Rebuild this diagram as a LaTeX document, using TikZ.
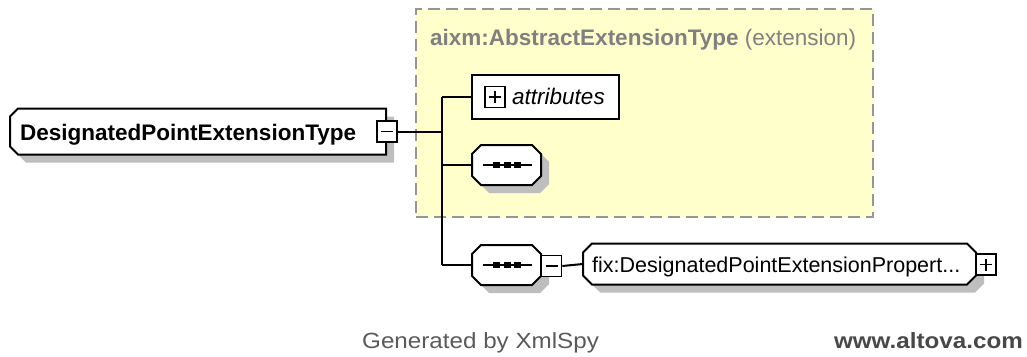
\documentclass[tikz,border=0pt]{standalone}
\usepackage{fontspec}
\setmainfont{Liberation Sans}
\definecolor{yel}{RGB}{255,255,204}
\definecolor{dashgray}{RGB}{150,150,150}
\definecolor{shad}{RGB}{190,190,190}
\definecolor{titlegray}{RGB}{128,128,128}
\definecolor{footgray}{RGB}{90,90,90}
% #1 name, #2 cx, #3 cy, #4 width, #5 height, #6 chamfer
\newcommand\octbox[6]{%
  \begin{scope}[shift={(8,8)}]
    \fill[shad] ({#2-#4/2},{#3-#5/2+#6}) -- ({#2-#4/2+#6},{#3-#5/2}) -- ({#2+#4/2-#6},{#3-#5/2}) -- ({#2+#4/2},{#3-#5/2+#6})
      -- ({#2+#4/2},{#3+#5/2-#6}) -- ({#2+#4/2-#6},{#3+#5/2}) -- ({#2-#4/2+#6},{#3+#5/2}) -- ({#2-#4/2},{#3+#5/2-#6}) -- cycle;
  \end{scope}
  \filldraw[boxline, fill=white] ({#2-#4/2},{#3-#5/2+#6}) -- ({#2-#4/2+#6},{#3-#5/2}) -- ({#2+#4/2-#6},{#3-#5/2}) -- ({#2+#4/2},{#3-#5/2+#6})
      -- ({#2+#4/2},{#3+#5/2-#6}) -- ({#2+#4/2-#6},{#3+#5/2}) -- ({#2-#4/2+#6},{#3+#5/2}) -- ({#2-#4/2},{#3+#5/2-#6}) -- cycle;
  \node[shapeanchor, minimum width=#4pt, minimum height=#5pt] (#1) at (#2,#3) {};}
% left chamfers only
\newcommand\lchambox[6]{%
  \begin{scope}[shift={(8,8)}]
    \fill[shad] ({#2-#4/2},{#3-#5/2+#6}) -- ({#2-#4/2+#6},{#3-#5/2}) -- ({#2+#4/2},{#3-#5/2})
      -- ({#2+#4/2},{#3+#5/2}) -- ({#2-#4/2+#6},{#3+#5/2}) -- ({#2-#4/2},{#3+#5/2-#6}) -- cycle;
  \end{scope}
  \filldraw[boxline, fill=white] ({#2-#4/2},{#3-#5/2+#6}) -- ({#2-#4/2+#6},{#3-#5/2}) -- ({#2+#4/2},{#3-#5/2})
      -- ({#2+#4/2},{#3+#5/2}) -- ({#2-#4/2+#6},{#3+#5/2}) -- ({#2-#4/2},{#3+#5/2-#6}) -- cycle;
  \node[shapeanchor, minimum width=#4pt, minimum height=#5pt] (#1) at (#2,#3) {};}
\newcommand\seqdots[1]{%
  \draw[line width=2pt] ([xshift=-24pt]#1.center) -- ([xshift=25pt]#1.center);
  \foreach \dx in {-10,1,11}{\fill[black] ([xshift=\dx pt]#1.center) +(-3.2,-3.2) rectangle +(3.2,3.2);}}
\begin{document}
\begin{tikzpicture}[x=1pt,y=-1pt,
  boxline/.style={line width=2pt, draw=black, line join=miter},
  shapeanchor/.style={rectangle, draw=none, inner sep=0pt},
  pmbase/.style={rectangle, draw=black, line width=1.6pt, fill=white, minimum width=20pt, minimum height=21pt, inner sep=0pt},
  minusbox/.style={pmbase, path picture={
     \draw[black, line width=1.5pt] ([xshift=-6pt]path picture bounding box.center) -- ([xshift=6pt]path picture bounding box.center);}},
  plusbox/.style={pmbase, path picture={
     \draw[black, line width=1.5pt] ([xshift=-6pt]path picture bounding box.center) -- ([xshift=6pt]path picture bounding box.center);
     \draw[black, line width=1.5pt] ([yshift=-6pt]path picture bounding box.center) -- ([yshift=6pt]path picture bounding box.center);}},
  txt/.style={inner sep=0pt, anchor=base west},
  conn/.style={line width=2pt, black}
]
\useasboundingbox (0,0) rectangle (1027,356);
\fill[white] (0,0) rectangle (1027,356);

% extension area
\node[draw=dashgray, fill=yel, line width=2pt, dash pattern=on 12pt off 6pt,
      minimum width=457pt, minimum height=208pt, inner sep=0pt] (ext) at (644.5,113) {};
\node[txt, text=titlegray, font=\fontsize{22.5}{26}\selectfont] (exttitle) at (430,45)
  {\textbf{aixm:AbstractExtensionType} (extension)};

% main element
\lchambox{main}{198}{131.5}{376}{46}{8}
\node[txt, font=\fontsize{22.5}{26}\selectfont\bfseries] (maintxt) at (20,140) {DesignatedPointExtensionType};
\node[minusbox] (mainminus) at (387,131.5) {};

% attributes
\node[rectangle, boxline, fill=white, minimum width=147pt, minimum height=44pt, inner sep=0pt] (attr) at (545.5,97) {};
\node[plusbox] (attrplus) at (495,97) {};
\node[txt, font=\fontsize{22.5}{26}\selectfont\itshape] (attrtxt) at (512,104.5) {attributes};

% sequence 1
\octbox{seq1}{506.5}{165}{69}{40}{9}
\seqdots{seq1}

% sequence 2
\octbox{seq2}{506.5}{265}{69}{40}{9}
\seqdots{seq2}
\node[minusbox] (seq2minus) at (551.5,266) {};

% fix element
\octbox{fix}{779.5}{264}{393}{41}{9}
\node[txt, font=\fontsize{21.5}{25}\selectfont] (fixtxt) at (592,272) {fix:DesignatedPointExtensionPropert...};
\node[plusbox] (fixplus) at (986,264.5) {};

% connectors
\coordinate (ttop) at (442,97);
\coordinate (tbot) at (442,265);
\draw[conn] (mainminus.east) -- (mainminus.east -| ttop);
\draw[conn] (ttop) -- (tbot);
\draw[conn] (ttop) -- (attr.west);
\draw[conn] (seq1.west -| ttop) -- (seq1.west);
\draw[conn] (tbot) -- (seq2.west);
\draw[conn] (seq2minus.east) -- (fix.west);

% footer
\node[txt, text=footgray, font=\fontsize{22}{26}\selectfont] (gen) at (362,348) {\scalebox{1.1}[1]{Generated by XmlSpy}};
\node[txt, text=footgray!80!black, font=\fontsize{22}{26}\selectfont\bfseries, anchor=base east] (alt) at (1023,348) {\scalebox{1.1}[1]{www.altova.com}};
\end{tikzpicture}
\end{document}
